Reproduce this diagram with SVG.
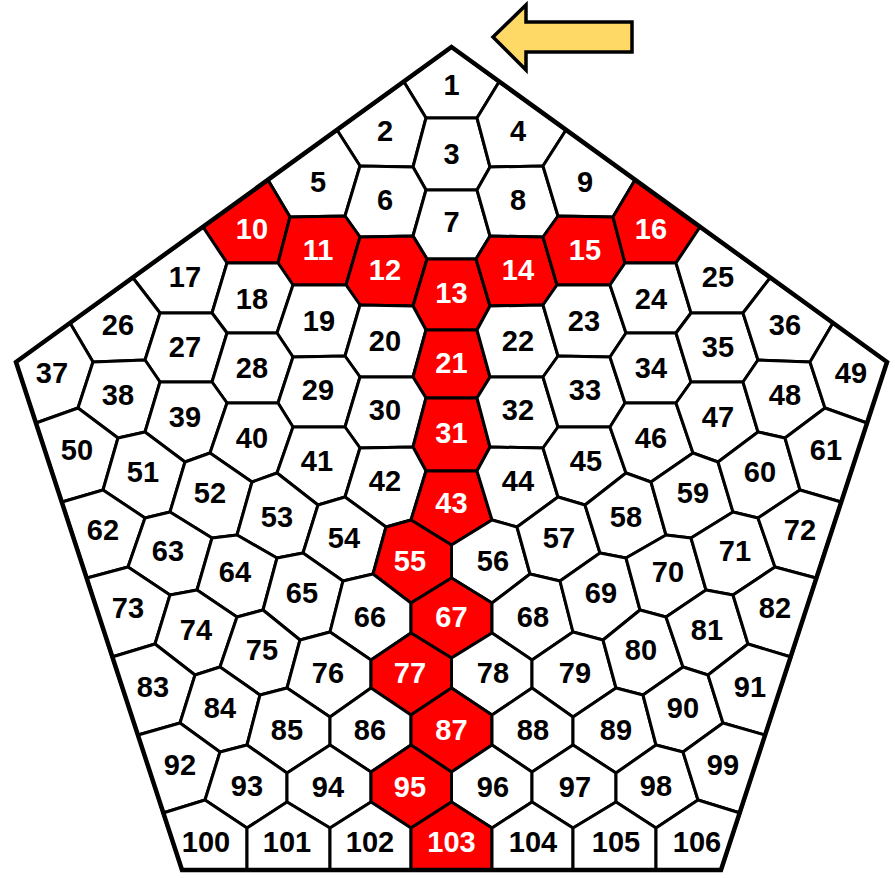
<svg xmlns="http://www.w3.org/2000/svg" width="895" height="878" viewBox="0 0 895 878">
<style>
.c{fill:#fff;stroke:#000;stroke-width:3;stroke-linejoin:round}
.r{fill:#f00}
.t{font-family:"Liberation Sans",Arial,sans-serif;font-weight:bold;font-size:29px;text-anchor:middle;fill:#000}
.w{fill:#fff}
</style>
<rect width="895" height="878" fill="#fff"/>
<g id="cells">
<g id="n1"><polygon class="c" points="451.5,47 404,82 426,118 477,118 499,82"/><text class="t" x="451.5" y="95">1</text></g>
<g id="n2"><polygon class="c" points="404,82 426,118 413,167 360,166 337,130"/><text class="t" x="385" y="141">2</text></g>
<g id="n3"><polygon class="c" points="426,118 477,118 490,167 477,190 426,190 413,167"/><text class="t" x="451.5" y="164">3</text></g>
<g id="n4"><polygon class="c" points="499,82 477,118 490,167 543,166 566,130"/><text class="t" x="518" y="141">4</text></g>
<g id="n5"><polygon class="c" points="337,130 360,166 345,216 290,217 268,180"/><text class="t" x="318" y="192">5</text></g>
<g id="n6"><polygon class="c" points="360,166 413,167 426,190 413,236 360,237 345,216"/><text class="t" x="385" y="210">6</text></g>
<g id="n7"><polygon class="c" points="426,190 477,190 490,236 476,259 427,259 413,236"/><text class="t" x="451.5" y="232">7</text></g>
<g id="n8"><polygon class="c" points="543,166 490,167 477,190 490,236 543,237 558,216"/><text class="t" x="518" y="210">8</text></g>
<g id="n9"><polygon class="c" points="566,130 543,166 558,216 613,217 635,180"/><text class="t" x="585" y="192">9</text></g>
<g id="n10"><polygon class="c r" points="268,180 290,217 278,263 227,263 203,227"/><text class="t w" x="252" y="239">10</text></g>
<g id="n11"><polygon class="c r" points="290,217 345,216 360,237 346,285 293,285 278,263"/><text class="t w" x="318" y="260">11</text></g>
<g id="n12"><polygon class="c r" points="360,237 413,236 427,259 413,306 360,305 346,285"/><text class="t w" x="385" y="280">12</text></g>
<g id="n13"><polygon class="c r" points="427,259 476,259 490,306 477,330 426,330 413,306"/><text class="t w" x="451.5" y="303">13</text></g>
<g id="n14"><polygon class="c r" points="543,237 490,236 476,259 490,306 543,305 557,285"/><text class="t w" x="518" y="280">14</text></g>
<g id="n15"><polygon class="c r" points="613,217 558,216 543,237 557,285 610,285 625,263"/><text class="t w" x="585" y="260">15</text></g>
<g id="n16"><polygon class="c r" points="635,180 613,217 625,263 676,263 700,227"/><text class="t w" x="651" y="239">16</text></g>
<g id="n17"><polygon class="c" points="203,227 227,263 212,313 160,313 133,278"/><text class="t" x="185" y="287">17</text></g>
<g id="n18"><polygon class="c" points="227,263 278,263 293,285 277,333 227,333 212,313"/><text class="t" x="252" y="309">18</text></g>
<g id="n19"><polygon class="c" points="293,285 346,285 360,305 345,356 293,357 277,333"/><text class="t" x="319" y="331">19</text></g>
<g id="n20"><polygon class="c" points="360,305 413,306 426,330 413,377 360,377 345,356"/><text class="t" x="385" y="351">20</text></g>
<g id="n21"><polygon class="c r" points="426,330 477,330 490,377 477,398 426,398 413,377"/><text class="t w" x="451.5" y="373">21</text></g>
<g id="n22"><polygon class="c" points="543,305 490,306 477,330 490,377 543,377 558,356"/><text class="t" x="518" y="351">22</text></g>
<g id="n23"><polygon class="c" points="610,285 557,285 543,305 558,356 610,357 626,333"/><text class="t" x="584" y="331">23</text></g>
<g id="n24"><polygon class="c" points="676,263 625,263 610,285 626,333 676,333 691,313"/><text class="t" x="651" y="309">24</text></g>
<g id="n25"><polygon class="c" points="700,227 676,263 691,313 743,313 770,278"/><text class="t" x="718" y="287">25</text></g>
<g id="n26"><polygon class="c" points="133,278 160,313 145,360 93,362 70,323"/><text class="t" x="118" y="335">26</text></g>
<g id="n27"><polygon class="c" points="160,313 212,313 227,333 212,382 160,382 145,360"/><text class="t" x="185" y="357">27</text></g>
<g id="n28"><polygon class="c" points="227,333 277,333 293,357 278,403 227,403 212,382"/><text class="t" x="252" y="378">28</text></g>
<g id="n29"><polygon class="c" points="293,357 345,356 360,377 345,427 293,427 278,403"/><text class="t" x="318" y="400">29</text></g>
<g id="n30"><polygon class="c" points="360,377 413,377 426,398 413,447 360,448 345,427"/><text class="t" x="385" y="420">30</text></g>
<g id="n31"><polygon class="c r" points="426,398 477,398 490,447 477,471 426,471 413,447"/><text class="t w" x="451.5" y="443">31</text></g>
<g id="n32"><polygon class="c" points="543,377 490,377 477,398 490,447 543,448 558,427"/><text class="t" x="518" y="420">32</text></g>
<g id="n33"><polygon class="c" points="610,357 558,356 543,377 558,427 610,427 625,403"/><text class="t" x="585" y="400">33</text></g>
<g id="n34"><polygon class="c" points="676,333 626,333 610,357 625,403 676,403 691,382"/><text class="t" x="651" y="378">34</text></g>
<g id="n35"><polygon class="c" points="743,313 691,313 676,333 691,382 743,382 758,360"/><text class="t" x="718" y="357">35</text></g>
<g id="n36"><polygon class="c" points="770,278 743,313 758,360 810,362 833,323"/><text class="t" x="785" y="335">36</text></g>
<g id="n37"><polygon class="c" points="16,362 70,323 93,362 78,408 36,423"/><text class="t" x="52" y="383">37</text></g>
<g id="n38"><polygon class="c" points="93,362 145,360 160,382 145,432 118,438 78,408"/><text class="t" x="118" y="405">38</text></g>
<g id="n39"><polygon class="c" points="160,382 212,382 227,403 210,453 185,462 145,432"/><text class="t" x="185" y="427">39</text></g>
<g id="n40"><polygon class="c" points="227,403 278,403 293,427 277,473 252,482 210,453"/><text class="t" x="252" y="448">40</text></g>
<g id="n41"><polygon class="c" points="293,427 345,427 360,448 345,497 318,505 277,473"/><text class="t" x="317" y="471">41</text></g>
<g id="n42"><polygon class="c" points="360,448 413,447 426,471 411,520 386,527 345,497"/><text class="t" x="385" y="491">42</text></g>
<g id="n43"><polygon class="c r" points="426,471 477,471 492,520 451.5,545 411,520"/><text class="t w" x="451.5" y="513">43</text></g>
<g id="n44"><polygon class="c" points="543,448 490,447 477,471 492,520 517,527 558,497"/><text class="t" x="518" y="491">44</text></g>
<g id="n45"><polygon class="c" points="610,427 558,427 543,448 558,497 585,505 626,473"/><text class="t" x="586" y="471">45</text></g>
<g id="n46"><polygon class="c" points="676,403 625,403 610,427 626,473 651,482 693,453"/><text class="t" x="651" y="448">46</text></g>
<g id="n47"><polygon class="c" points="743,382 691,382 676,403 693,453 718,462 758,432"/><text class="t" x="718" y="427">47</text></g>
<g id="n48"><polygon class="c" points="810,362 758,360 743,382 758,432 785,438 825,408"/><text class="t" x="785" y="405">48</text></g>
<g id="n49"><polygon class="c" points="887,362 833,323 810,362 825,408 867,423"/><text class="t" x="851" y="383">49</text></g>
<g id="n50"><polygon class="c" points="36,423 78,408 118,438 103,490 62,502"/><text class="t" x="77" y="460">50</text></g>
<g id="n51"><polygon class="c" points="118,438 145,432 185,462 170,512 145,518 103,490"/><text class="t" x="143" y="482">51</text></g>
<g id="n52"><polygon class="c" points="185,462 210,453 252,482 237,535 212,538 170,512"/><text class="t" x="210" y="503">52</text></g>
<g id="n53"><polygon class="c" points="252,482 277,473 318,505 303,553 277,558 237,535"/><text class="t" x="277" y="527">53</text></g>
<g id="n54"><polygon class="c" points="318,505 345,497 386,527 373,574 343,581 303,553"/><text class="t" x="344" y="548">54</text></g>
<g id="n55"><polygon class="c r" points="386,527 411,520 451.5,545 451.5,578 411,603 373,574"/><text class="t w" x="410" y="571">55</text></g>
<g id="n56"><polygon class="c" points="517,527 492,520 451.5,545 451.5,578 492,603 530,574"/><text class="t" x="493" y="571">56</text></g>
<g id="n57"><polygon class="c" points="585,505 558,497 517,527 530,574 560,581 600,553"/><text class="t" x="559" y="548">57</text></g>
<g id="n58"><polygon class="c" points="651,482 626,473 585,505 600,553 626,558 666,535"/><text class="t" x="626" y="527">58</text></g>
<g id="n59"><polygon class="c" points="718,462 693,453 651,482 666,535 691,538 733,512"/><text class="t" x="693" y="503">59</text></g>
<g id="n60"><polygon class="c" points="785,438 758,432 718,462 733,512 758,518 800,490"/><text class="t" x="760" y="482">60</text></g>
<g id="n61"><polygon class="c" points="867,423 825,408 785,438 800,490 841,502"/><text class="t" x="826" y="460">61</text></g>
<g id="n62"><polygon class="c" points="62,502 103,490 145,518 128,567 87,578"/><text class="t" x="103" y="540">62</text></g>
<g id="n63"><polygon class="c" points="145,518 170,512 212,538 197,590 170,595 128,567"/><text class="t" x="168" y="561">63</text></g>
<g id="n64"><polygon class="c" points="212,538 237,535 277,558 263,610 237,617 197,590"/><text class="t" x="235" y="582">64</text></g>
<g id="n65"><polygon class="c" points="277,558 303,553 343,581 330,632 300,640 263,610"/><text class="t" x="302" y="603">65</text></g>
<g id="n66"><polygon class="c" points="343,581 373,574 411,603 411,633 371,660 330,632"/><text class="t" x="370" y="627">66</text></g>
<g id="n67"><polygon class="c r" points="451.5,578 492,603 492,633 451.5,658 411,633 411,603"/><text class="t w" x="451.5" y="627">67</text></g>
<g id="n68"><polygon class="c" points="560,581 530,574 492,603 492,633 532,660 573,632"/><text class="t" x="533" y="627">68</text></g>
<g id="n69"><polygon class="c" points="626,558 600,553 560,581 573,632 603,640 640,610"/><text class="t" x="601" y="603">69</text></g>
<g id="n70"><polygon class="c" points="691,538 666,535 626,558 640,610 666,617 706,590"/><text class="t" x="668" y="582">70</text></g>
<g id="n71"><polygon class="c" points="758,518 733,512 691,538 706,590 733,595 775,567"/><text class="t" x="735" y="561">71</text></g>
<g id="n72"><polygon class="c" points="841,502 800,490 758,518 775,567 816,578"/><text class="t" x="800" y="540">72</text></g>
<g id="n73"><polygon class="c" points="87,578 128,567 170,595 155,644 112,657"/><text class="t" x="128" y="618">73</text></g>
<g id="n74"><polygon class="c" points="170,595 197,590 237,617 220,667 195,675 155,644"/><text class="t" x="196" y="640">74</text></g>
<g id="n75"><polygon class="c" points="237,617 263,610 300,640 287,688 260,695 220,667"/><text class="t" x="262" y="660">75</text></g>
<g id="n76"><polygon class="c" points="330,632 371,660 371,688 330,717 287,688 300,640"/><text class="t" x="328" y="683">76</text></g>
<g id="n77"><polygon class="c r" points="411,633 451.5,658 451.5,688 411,715 371,688 371,660"/><text class="t w" x="410" y="683">77</text></g>
<g id="n78"><polygon class="c" points="492,633 451.5,658 451.5,688 492,715 532,688 532,660"/><text class="t" x="493" y="683">78</text></g>
<g id="n79"><polygon class="c" points="573,632 532,660 532,688 573,717 616,688 603,640"/><text class="t" x="575" y="683">79</text></g>
<g id="n80"><polygon class="c" points="666,617 640,610 603,640 616,688 643,695 683,667"/><text class="t" x="641" y="660">80</text></g>
<g id="n81"><polygon class="c" points="733,595 706,590 666,617 683,667 708,675 748,644"/><text class="t" x="707" y="640">81</text></g>
<g id="n82"><polygon class="c" points="816,578 775,567 733,595 748,644 791,657"/><text class="t" x="775" y="618">82</text></g>
<g id="n83"><polygon class="c" points="112,657 155,644 195,675 180,723 138,735"/><text class="t" x="153" y="697">83</text></g>
<g id="n84"><polygon class="c" points="195,675 220,667 260,695 247,745 220,752 180,723"/><text class="t" x="220" y="718">84</text></g>
<g id="n85"><polygon class="c" points="260,695 287,688 330,717 330,745 287,773 247,745"/><text class="t" x="287" y="740">85</text></g>
<g id="n86"><polygon class="c" points="371,688 411,715 411,745 371,772 330,745 330,717"/><text class="t" x="370" y="740">86</text></g>
<g id="n87"><polygon class="c r" points="451.5,688 492,715 492,745 451.5,772 411,745 411,715"/><text class="t w" x="451.5" y="740">87</text></g>
<g id="n88"><polygon class="c" points="532,688 492,715 492,745 532,772 573,745 573,717"/><text class="t" x="533" y="740">88</text></g>
<g id="n89"><polygon class="c" points="643,695 616,688 573,717 573,745 616,773 656,745"/><text class="t" x="616" y="740">89</text></g>
<g id="n90"><polygon class="c" points="708,675 683,667 643,695 656,745 683,752 723,723"/><text class="t" x="683" y="718">90</text></g>
<g id="n91"><polygon class="c" points="791,657 748,644 708,675 723,723 765,735"/><text class="t" x="750" y="697">91</text></g>
<g id="n92"><polygon class="c" points="138,735 180,723 220,752 205,800 163,813"/><text class="t" x="180" y="775">92</text></g>
<g id="n93"><polygon class="c" points="220,752 247,745 287,773 287,802 247,828 205,800"/><text class="t" x="247" y="796">93</text></g>
<g id="n94"><polygon class="c" points="330,745 371,772 371,802 330,828 287,802 287,773"/><text class="t" x="328" y="797">94</text></g>
<g id="n95"><polygon class="c r" points="411,745 451.5,772 451.5,802 411,828 371,802 371,772"/><text class="t w" x="410" y="797">95</text></g>
<g id="n96"><polygon class="c" points="492,745 451.5,772 451.5,802 492,828 532,802 532,772"/><text class="t" x="493" y="797">96</text></g>
<g id="n97"><polygon class="c" points="573,745 532,772 532,802 573,828 616,802 616,773"/><text class="t" x="575" y="797">97</text></g>
<g id="n98"><polygon class="c" points="683,752 656,745 616,773 616,802 656,828 698,800"/><text class="t" x="656" y="796">98</text></g>
<g id="n99"><polygon class="c" points="765,735 723,723 683,752 698,800 740,813"/><text class="t" x="723" y="775">99</text></g>
<g id="n100"><polygon class="c" points="163,813 205,800 247,828 247,870 182,870"/><text class="t" x="206" y="852">100</text></g>
<g id="n101"><polygon class="c" points="247,828 287,802 330,828 330,870 247,870"/><text class="t" x="287" y="852">101</text></g>
<g id="n102"><polygon class="c" points="330,828 371,802 411,828 411,870 330,870"/><text class="t" x="370" y="852">102</text></g>
<g id="n103"><polygon class="c r" points="411,828 451.5,802 492,828 492,870 411,870"/><text class="t w" x="451.5" y="852">103</text></g>
<g id="n104"><polygon class="c" points="573,828 532,802 492,828 492,870 573,870"/><text class="t" x="533" y="852">104</text></g>
<g id="n105"><polygon class="c" points="656,828 616,802 573,828 573,870 656,870"/><text class="t" x="616" y="852">105</text></g>
<g id="n106"><polygon class="c" points="740,813 698,800 656,828 656,870 721,870"/><text class="t" x="697" y="852">106</text></g>
</g>
<g id="outline"><polygon points="451.5,47 887,362 721,870 182,870 16,362" fill="none" stroke="#000" stroke-width="4.5" stroke-linejoin="miter"/></g>
<g id="arrow"><polygon points="493,37 526,5 526,22 632,22 632,52 526,52 526,70" fill="#FFD966" stroke="#000" stroke-width="3.5" stroke-linejoin="miter"/></g>
<g id="connectors"/>
</svg>
